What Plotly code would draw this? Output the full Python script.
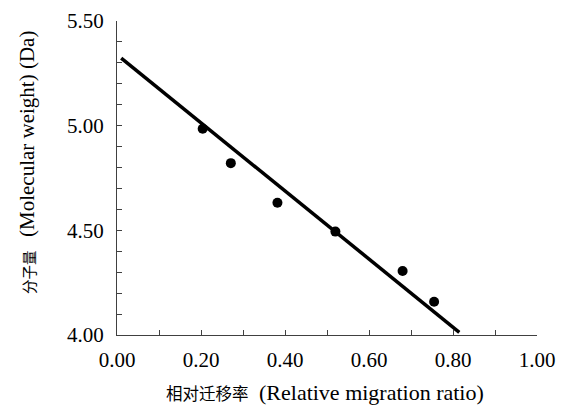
import plotly.graph_objects as go

# measured data points
ratio = [0.204, 0.271, 0.382, 0.520, 0.680, 0.755]
mw = [4.985, 4.821, 4.632, 4.494, 4.306, 4.159]

# fitted line endpoints as drawn
line_x = [0.010, 0.815]
line_y = [5.323, 4.013]

x_title_cn = "相对迁移率"
x_title_en = "(Relative migration ratio)"
y_title_cn = "分子量"
y_title_en = "(Molecular weight) (Da)"

serif = "Liberation Serif"
cjk = "Noto Sans CJK SC"

# plot-area pixel geometry (for placing titles in paper coords)
L, R, T, B = 117, 537, 21, 335
def px(x):
    return (x - L) / (R - L)
def py(y):
    return (B - y) / (B - T)

fig = go.Figure()
fig.add_trace(go.Scatter(x=line_x, y=line_y, mode="lines",
                         line=dict(color="black", width=3.5), showlegend=False))
fig.add_trace(go.Scatter(x=ratio, y=mw, mode="markers",
                         marker=dict(color="black", size=10), showlegend=False))

axis_common = dict(showline=True, linecolor="#404040", linewidth=1, showgrid=False,
                   zeroline=False, ticks="inside", ticklen=5, tickcolor="#404040",
                   tickfont=dict(family=serif, size=21, color="black"),
                   tickformat=".2f", automargin=False)

fig.update_xaxes(range=[0, 1], dtick=0.2, tick0=0, ticklabelstandoff=6,
                 minor=dict(dtick=0.1, ticks="inside", ticklen=5, tickcolor="#404040"),
                 **axis_common)
fig.update_yaxes(range=[4, 5.5], dtick=0.5, tick0=4, ticklabelstandoff=8,
                 minor=dict(dtick=0.1, ticks="inside", ticklen=5, tickcolor="#404040"),
                 **axis_common)

# x title
fig.add_annotation(text=x_title_cn, xref="paper", yref="paper", x=px(251), y=py(393),
                   showarrow=False, xanchor="right", yanchor="middle",
                   font=dict(family=cjk, size=16.5, color="black"))
fig.add_annotation(text=x_title_en, xref="paper", yref="paper", x=px(257), y=py(392),
                   showarrow=False, xanchor="left", yanchor="middle",
                   font=dict(family=serif, size=22, color="black"))
# y title
fig.add_annotation(text=y_title_en, xref="paper", yref="paper", x=px(27), y=py(239),
                   showarrow=False, xanchor="center", yanchor="bottom", textangle=-90,
                   font=dict(family=serif, size=21, color="black"))
fig.add_annotation(text=y_title_cn, xref="paper", yref="paper", x=px(28), y=py(248),
                   showarrow=False, xanchor="center", yanchor="top", textangle=-90,
                   font=dict(family=cjk, size=14.5, color="black"))

fig.update_layout(width=573, height=406, margin=dict(l=L, r=573 - R, t=T, b=406 - B, autoexpand=False),
                  plot_bgcolor="white", paper_bgcolor="white",
                  font=dict(family=serif))

post = (
    "document.body.style.margin='0';document.body.style.padding='0';"
    "var st=document.createElement('style');"
    "st.textContent='.modebar-container{display:none !important;}';"
    "document.head.appendChild(st);"
)
fig.write_html("out.html", post_script=post)
